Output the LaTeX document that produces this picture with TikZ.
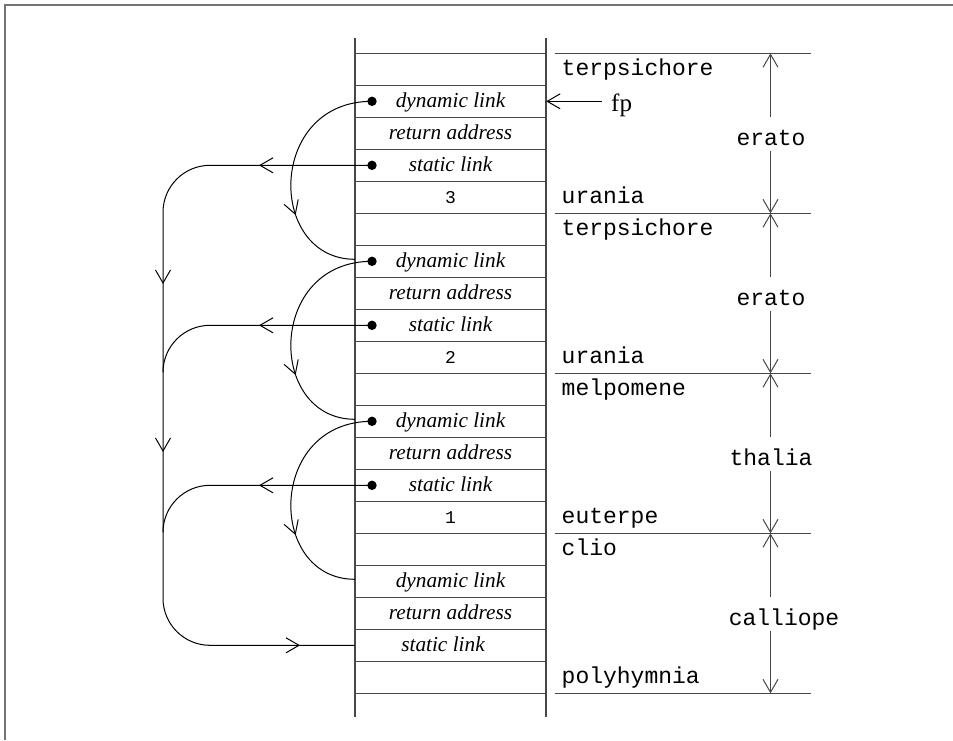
\documentclass[tikz,border=0pt]{standalone}
\usepackage{fontspec}
\setmainfont{Liberation Serif}
\setmonofont{Liberation Mono}
\usetikzlibrary{arrows.meta,decorations.markings}

\tikzset{
  barb/.tip={Straight Barb[length=13pt,width=15pt,line width=1pt]},
  frame/.style={line width=1.5pt, draw=black!55},
  stackline/.style={line width=1.3pt, draw=black!72},
  link/.style={line width=1pt, draw=black},
  cell/.style={minimum width=191pt, minimum height=32pt, inner sep=0pt,
    text height=12pt, text depth=0pt,
    font=\fontsize{21.3}{24}\selectfont\itshape},
  numcell/.style={cell, font=\fontsize{18}{20}\selectfont\ttfamily},
  side/.style={anchor=base west, inner sep=0pt,
    font=\fontsize{23}{26}\selectfont\ttfamily},
  span/.style={anchor=base, inner sep=0pt, text height=28pt, text depth=5pt,
    font=\fontsize{23}{26}\selectfont\ttfamily},
  ptr/.style={circle, fill=black, inner sep=0pt, minimum size=9.4pt},
  dimline/.style={line width=1.2pt, draw=black!72, -{barb}},
  dynlink/.style={link, postaction={decorate}, decoration={markings,
    mark=at position 0.67 with {\arrow{barb}}}},
}

\begin{document}
\begin{tikzpicture}[x=1pt,y=-1pt]
\useasboundingbox (0,0) rectangle (953,740);

% page frame
\draw[frame] (5,740) -- (5,5) -- (953,5);

% the stack: two rails and the slot separators
\draw[stackline] (355,38) -- (355,717);
\draw[stackline] (546,38) -- (546,717);
\foreach \k in {0,...,20}
  \draw[stackline] (355,{53.3+32*\k}) -- (546,{53.3+32*\k});

% stack slots
\node[cell] (r0)  at (450.5, 69.3) {};
\node[cell] (r1)  at (450.5,101.3) {dynamic link};
\node[cell] (r2)  at (450.5,133.3) {return address};
\node[cell] (r3)  at (450.5,165.3) {static link};
\node[numcell] (r4) at (450.5,197.3) {3};
\node[cell] (r5)  at (450.5,229.3) {};
\node[cell] (r6)  at (450.5,261.3) {dynamic link};
\node[cell] (r7)  at (450.5,293.3) {return address};
\node[cell] (r8)  at (450.5,325.3) {static link};
\node[numcell] (r9) at (450.5,357.3) {2};
\node[cell] (r10) at (450.5,389.3) {};
\node[cell] (r11) at (450.5,421.3) {dynamic link};
\node[cell] (r12) at (450.5,453.3) {return address};
\node[cell] (r13) at (450.5,485.3) {static link};
\node[numcell] (r14) at (450.5,517.3) {1};
\node[cell] (r15) at (450.5,549.3) {};
\node[cell] (r16) at (450.5,581.3) {dynamic link};
\node[cell] (r17) at (450.5,613.3) {return address};
\node[cell] (r18) at (450.5,645.3) {static link\hspace*{15pt}};
\node[cell] (r19) at (450.5,677.3) {};

% pointer dots
\node[ptr] (d1)  at (372,101.3) {};
\node[ptr] (d3)  at (372,165.3) {};
\node[ptr] (d6)  at (372,261.3) {};
\node[ptr] (d8)  at (372,325.3) {};
\node[ptr] (d11) at (372,421.3) {};
\node[ptr] (d13) at (372,485.3) {};

% names beside the slots
\node[side] (n0)  at (561.5, 75.3) {terpsichore};
\node[side] (n4)  at (561.5,203.3) {urania};
\node[side] (n5)  at (561.5,235.3) {terpsichore};
\node[side] (n9)  at (561.5,363.3) {urania};
\node[side] (n10) at (561.5,395.3) {melpomene};
\node[side] (n14) at (561.5,523.3) {euterpe};
\node[side] (n15) at (561.5,555.3) {clio};
\node[side] (n19) at (561.5,683.3) {polyhymnia};

% frame boundaries on the right
\foreach \y in {53.3,213.3,373.3,533.3,693.3}
  \draw[stackline] (555,\y) -- (811,\y);

% frame extents
\coordinate (h0) at (770.5,53.3);
\coordinate (h1) at (770.5,213.3);
\coordinate (h2) at (770.5,373.3);
\coordinate (h3) at (770.5,533.3);
\coordinate (h4) at (770.5,693.3);
\node[span] (s1) at (771,145.3) {erato};
\node[span] (s2) at (771,305.3) {erato};
\node[span] (s3) at (771,465.3) {thalia};
\node[span] (s4) at (784,625.3) {calliope};
\draw[dimline] (h0 |- s1.north) -- (h0);
\draw[dimline] (h0 |- s1.south) -- (h1);
\draw[dimline] (h0 |- s2.north) -- (h1);
\draw[dimline] (h0 |- s2.south) -- (h2);
\draw[dimline] (h0 |- s3.north) -- (h2);
\draw[dimline] (h0 |- s3.south) -- (h3);
\draw[dimline] (h0 |- s4.north) -- (h3);
\draw[dimline] (h0 |- s4.south) -- (h4);

% frame pointer
\node[anchor=base west, inner sep=0pt, font=\fontsize{25}{28}\selectfont] (fp) at (611,111) {fp};
\coordinate (fptail) at (601.7,101.3);
\draw[link,-{barb}] (fptail) -- (r1.east);

% dynamic links
\coordinate (e6)  at (355,259.3);
\coordinate (e11) at (355,419.3);
\coordinate (e16) at (355,579.3);
\draw[dynlink] (d1.center) .. controls (266.8,101.3) and (266.8,259.3) .. (e6);
\draw[dynlink] (d6.center) .. controls (266.8,261.3) and (266.8,419.3) .. (e11);
\draw[dynlink] (d11.center) .. controls (266.8,421.3) and (266.8,579.3) .. (e16);

% static links
\coordinate (sa) at (210,165.3);
\coordinate (sb) at (210,325.3);
\coordinate (sc) at (210,485.3);
\coordinate (sv) at (163,598.3);
\draw[link, postaction={decorate}, decoration={markings,
    mark=at position 113pt with {\arrow{barb}},
    mark=at position 307.5pt with {\arrow{barb}},
    mark=at position 475.5pt with {\arrow{barb}},
    mark=at position 785.7pt with {\arrow{barb}}}]
  (d3.center) -- (sa) arc[start angle=90, end angle=180, radius=47pt]
  -- (sv) arc[start angle=180, end angle=270, radius=47pt] -- (r18.west);
\draw[link, postaction={decorate}, decoration={markings,
    mark=at position 113pt with {\arrow{barb}}}]
  (d8.center) -- (sb) arc[start angle=90, end angle=180, radius=47pt];
\draw[link, postaction={decorate}, decoration={markings,
    mark=at position 113pt with {\arrow{barb}}}]
  (d13.center) -- (sc) arc[start angle=90, end angle=180, radius=47pt];
\end{tikzpicture}
\end{document}
